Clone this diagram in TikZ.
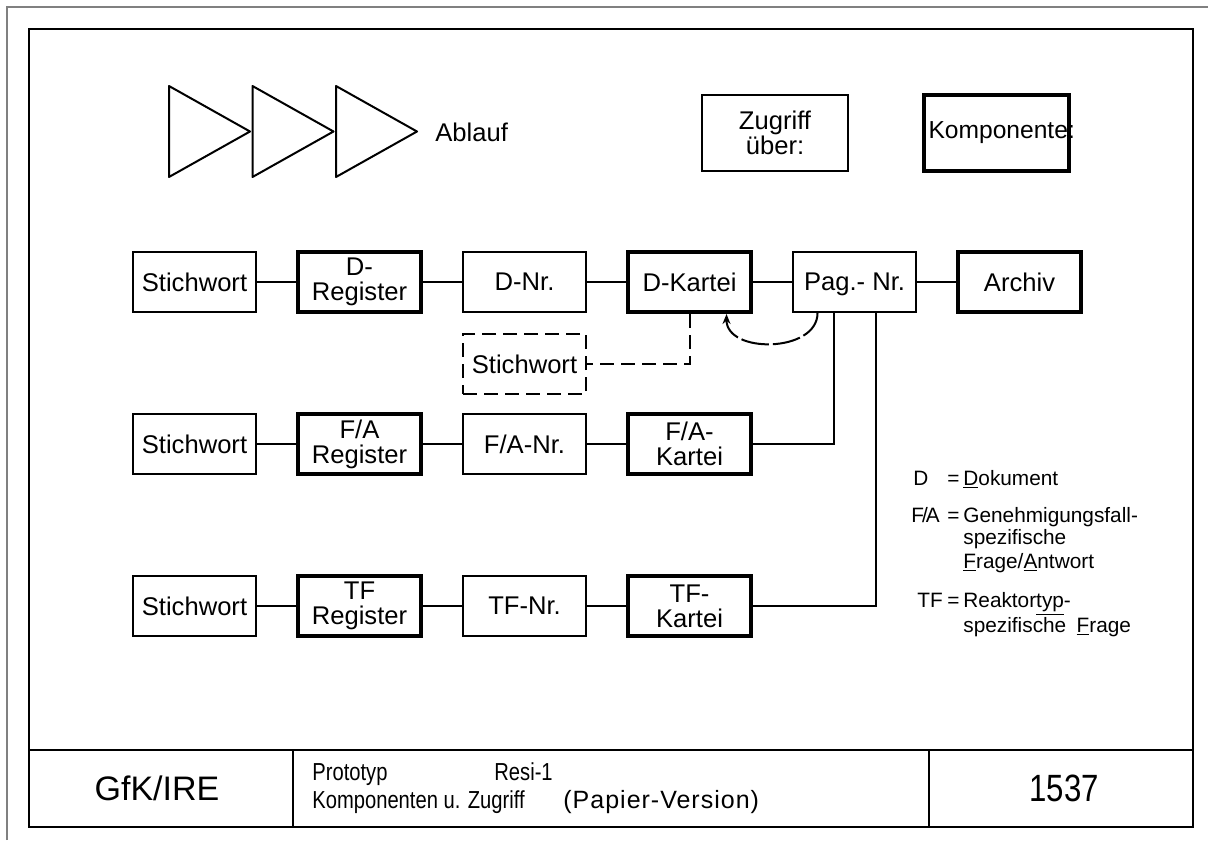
\documentclass[tikz,border=0pt]{standalone}
\usepackage{fontspec}
\setmainfont{Liberation Sans}
\newfontfamily\narrowfont[FakeStretch=0.82]{Liberation Sans}
\newfontfamily\widefont[LetterSpace=4]{Liberation Sans}
\usetikzlibrary{arrows.meta, positioning, calc}

\tikzset{
  zbox/.style={draw, line width=1pt, minimum width=61.5pt, minimum height=30pt,
    align=center, inner sep=1pt, font=\fontsize{12.8}{12.5}\selectfont},
  kbox/.style={zbox, line width=2pt},
  dbox/.style={zbox, dash pattern=on 7pt off 3.5pt},
  link/.style={line width=1pt},
  lgd/.style={anchor=base west, inner sep=0pt, font=\fontsize{10.4}{12}\selectfont},
  ttext/.style={anchor=base west, inner sep=0pt, font=\narrowfont\fontsize{12.3}{14}\selectfont}
}

\begin{document}
\begin{tikzpicture}[x=0.5pt, y=-0.5pt, >=Stealth]
  \useasboundingbox (0,0) rectangle (1208,840);

  % frame and title block
  \draw[gray, line width=0.8pt] (7,840) -- (7,7) -- (1208,7);
  \draw[line width=1.3pt] (29,29) rectangle (1193,827);
  \draw[line width=1pt] (29,750) -- (1193,750);
  \draw[line width=1pt] (293,750) -- (293,827);
  \draw[line width=1pt] (929,750) -- (929,827);
  \node[font=\fontsize{17}{20}\selectfont] (gfk) at (157,788) {GfK/IRE};
  \node[font=\narrowfont\fontsize{19}{20}\selectfont] (blatt) at (1064,788) {1537};
  \node[ttext] (proto) at (312,780) {Prototyp};
  \node[ttext] (resi) at (494,780) {Resi-1};
  \node[ttext] (thema) at (312,808) {Komponenten u. Zugriff};
  \node[ttext, font=\widefont\fontsize{12.5}{14}\selectfont] (version) at (563,808) {(Papier-Version)};

  % legend on top
  \foreach \i in {0,1,2}
    \draw[line width=1pt, line join=round] ({169+83.5*\i},86) -- ++(0,91) -- ++(81,-45.5) -- cycle;
  \node[anchor=west, inner sep=0pt, font=\fontsize{12.8}{14}\selectfont] (ablauf) at (435,132) {Ablauf};
  \node[zbox, minimum width=73pt, minimum height=38pt] (zugriff) at (775,133) {Zugriff\\über:};
  \node[kbox, minimum width=72.5pt, minimum height=38pt, inner sep=0pt, font=\fontsize{12.3}{14}\selectfont]
    (komp) at (996.5,133) {\makebox[72pt][l]{\kern2pt Komponente:}};

  % D row
  \node[zbox] (stw1) at (194.5,282) {Stichwort};
  \node[kbox, right=19.5pt of stw1] (dreg) {D-\\Register};
  \node[zbox, right=19.5pt of dreg] (dnr) {D-Nr.};
  \node[kbox, right=19.5pt of dnr] (dkart) {D-Kartei};
  \node[zbox, text depth=0pt, right=19.5pt of dkart] (pag) {Pag.- Nr.};
  \node[kbox, right=19.5pt of pag] (archiv) {Archiv};
  \node[dbox, below=10pt of dnr] (stw0) {Stichwort};

  % F/A row
  \node[zbox, below=50pt of stw1] (stw2) {Stichwort};
  \node[kbox, right=19.5pt of stw2] (fareg) {F/A\\Register};
  \node[zbox, right=19.5pt of fareg] (fanr) {F/A-Nr.};
  \node[kbox, right=19.5pt of fanr] (fakart) {F/A-\\Kartei};

  % TF row
  \node[zbox, below=50pt of stw2] (stw3) {Stichwort};
  \node[kbox, right=19.5pt of stw3] (tfreg) {TF\\Register};
  \node[zbox, right=19.5pt of tfreg] (tfnr) {TF-Nr.};
  \node[kbox, right=19.5pt of tfnr] (tfkart) {TF-\\Kartei};

  \draw[link] (stw1) -- (dreg);
  \draw[link] (dreg) -- (dnr);
  \draw[link] (dnr) -- (dkart);
  \draw[link] (dkart) -- (pag);
  \draw[link] (pag) -- (archiv);
  \draw[link] (stw2) -- (fareg);
  \draw[link] (fareg) -- (fanr);
  \draw[link] (fanr) -- (fakart);
  \draw[link] (stw3) -- (tfreg);
  \draw[link] (tfreg) -- (tfnr);
  \draw[link] (tfnr) -- (tfkart);
  \draw[link, dash pattern=on 7pt off 3.5pt] (dkart.south) |- (stw0.east);
  \draw[link] (fakart.east) -| ([xshift=-10.5pt]pag.south);
  \draw[link] (tfkart.east) -| ([xshift=10.5pt]pag.south);
  \draw[link, dash pattern=on 14pt off 2pt, -{Stealth[length=5pt, width=4pt]}]
    ([xshift=-18.5pt]pag.south) .. controls +(0,-20pt) and +(0,-20pt) .. ([xshift=18.5pt]dkart.south);

  % abbreviations
  \node[lgd] (kD) at (913,485) {D};
  \node[lgd] (eqD) at (947,485) {=};
  \node[lgd] (txD) at (963,485) {\underline{D}okument};
  \node[lgd] (kFA) at (911,522) {F\kern-1pt/\kern-1pt A};
  \node[lgd] (eqFA) at (947,522) {=};
  \node[lgd] (txFA1) at (963,522) {Genehmigungsfall-};
  \node[lgd] (txFA2) at (963,544) {spezifische};
  \node[lgd] (txFA3) at (963,568) {\underline{F}rage/\underline{A}ntwort};
  \node[lgd] (kTF) at (917,607) {TF};
  \node[lgd] (eqTF) at (947,607) {=};
  \node[lgd] (txTF1) at (963,607) {Reaktor\underline{typ}-};
  \node[lgd] (txTF2) at (963,632) {spezifische\enspace\underline{F}rage};
\end{tikzpicture}
\end{document}
